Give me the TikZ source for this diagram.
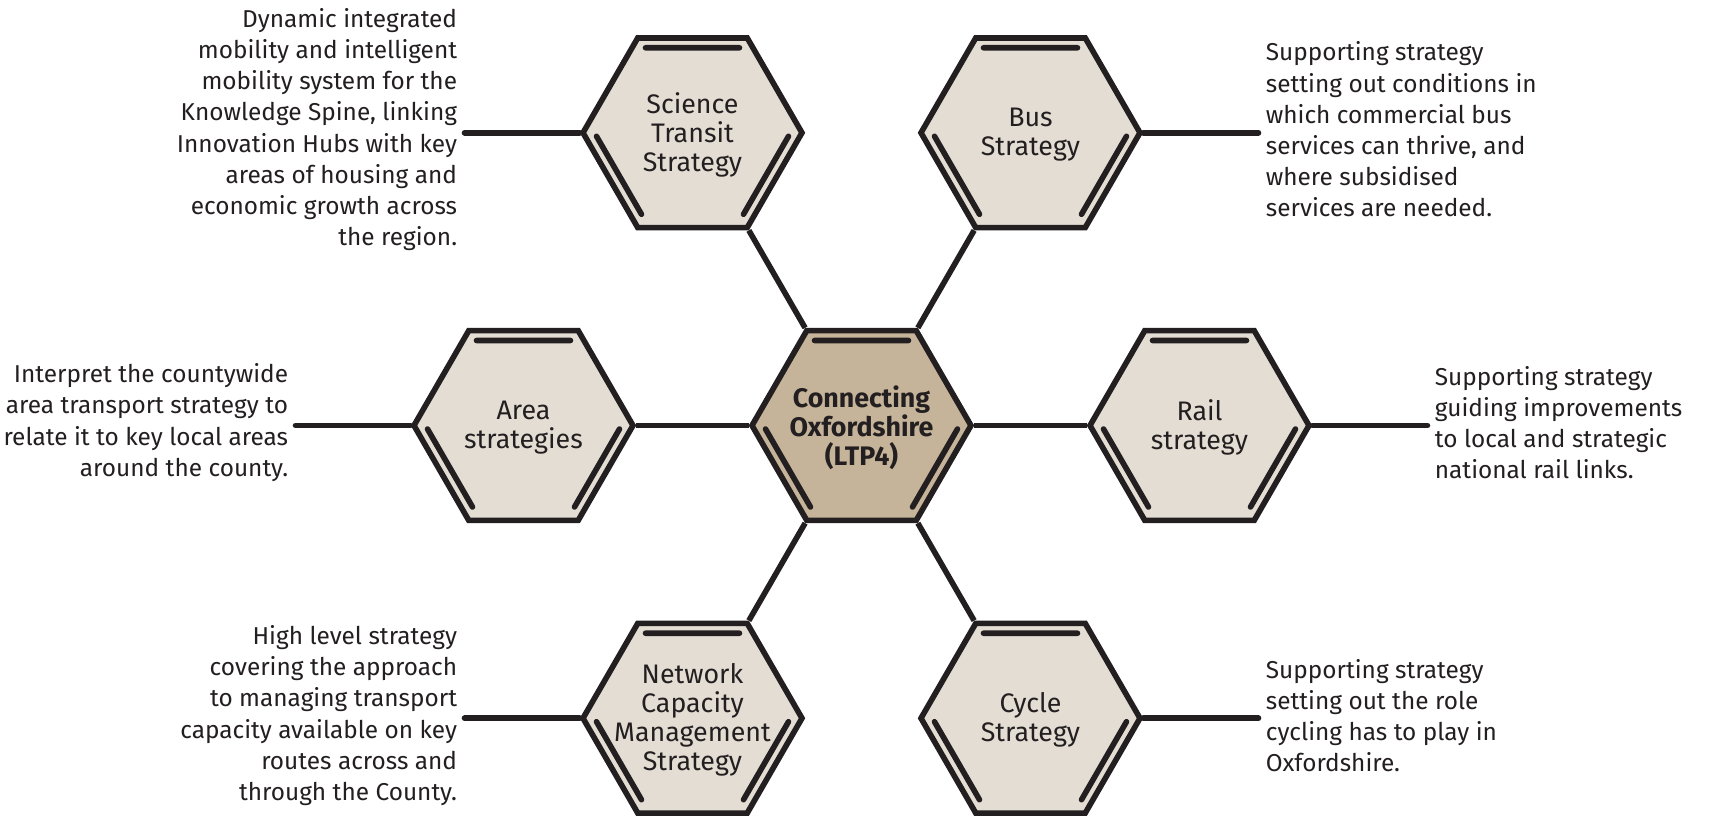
\documentclass[tikz,border=0pt]{standalone}
\usepackage{fontspec}
\setmainfont{Fira Sans}
\usetikzlibrary{shapes.geometric}

\definecolor{hexline}{HTML}{231F20}
\definecolor{hexfill}{HTML}{E3DDD3}
\definecolor{hubfill}{HTML}{C5B49A}

\tikzset{
  hexa/.style={regular polygon, regular polygon sides=6, minimum size=109.5pt,
    inner sep=0pt, draw=hexline, line width=2.8pt, fill=hexfill},
  hubhex/.style={hexa, fill=hubfill},
  hextext/.style={text=hexline, inner sep=0pt, yshift=-1pt, align=center,
    font=\fontsize{13.4}{14.5}\selectfont},
  hubtext/.style={hextext, font=\fontsize{13.4}{14.6}\selectfont\bfseries},
  note/.style={text=hexline, inner sep=3.5pt, font=\fontsize{12.2}{15.6}\selectfont},
  spoke/.style={draw=hexline, line width=2.8pt},
  leader/.style={draw=hexline, line width=2.8pt, line cap=round},
  hexrim/.style={draw=hexline, line width=2.8pt, line cap=round}
}

% inner rim lines of a hexagon
\newcommand{\hexrimlines}[1]{%
  \draw[hexrim] ([shift={(-47,85)}]#1.center) -- ([shift={(47,85)}]#1.center)
    ([shift={(-96,-3.5)}]#1.center) -- ([shift={(-51,-81.5)}]#1.center)
    ([shift={(96,-3.5)}]#1.center) -- ([shift={(51,-81.5)}]#1.center);}

\begin{document}
\begin{tikzpicture}[x=0.5pt,y=0.5pt]
  \useasboundingbox (-861.5,-390.5) rectangle (848.5,425.5);

  \node[hubhex, label={[hubtext]center:Connecting\\Oxfordshire\\(LTP4)}] (hub) at (0,0) {};
  \node[hexa, label={[hextext]center:Science\\Transit\\Strategy}] (sci) at (120:338) {};
  \node[hexa, label={[hextext]center:Bus\\Strategy}] (bus) at (60:338) {};
  \node[hexa, label={[hextext]center:Area\\strategies}] (area) at (180:338) {};
  \node[hexa, label={[hextext]center:Rail\\strategy}] (rail) at (0:338) {};
  \node[hexa, label={[hextext]center:Network\\Capacity\\Management\\Strategy}] (net) at (240:338) {};
  \node[hexa, label={[hextext]center:Cycle\\Strategy}] (cyc) at (300:338) {};

  \foreach \h in {hub,sci,bus,area,rail,net,cyc} {\hexrimlines{\h}}

  \foreach \h in {sci,bus,area,rail,net,cyc} {\draw[spoke] (hub) -- (\h);}

  % descriptions
  \node[note, anchor=east, align=right] (scitxt) at (-397,296)
    {Dynamic integrated\\mobility and intelligent\\mobility system for the\\Knowledge Spine, linking\\Innovation Hubs with key\\areas of housing and\\economic growth across\\the region.};
  \node[note, anchor=west, align=left] (bustxt) at (397,296)
    {Supporting strategy\\setting out conditions in\\which commercial bus\\services can thrive, and\\where subsidised\\services are needed.};
  \node[note, anchor=east, align=right] (areatxt) at (-566,3)
    {Interpret the countywide\\area transport strategy to\\relate it to key local areas\\around the county.};
  \node[note, anchor=west, align=left] (railtxt) at (566,3)
    {Supporting strategy\\guiding improvements\\to local and strategic\\national rail links.};
  \node[note, anchor=east, align=right] (nettxt) at (-397,-290)
    {High level strategy\\covering the approach\\to managing transport\\capacity available on key\\routes across and\\through the County.};
  \node[note, anchor=west, align=left] (cyctxt) at (397,-290)
    {Supporting strategy\\setting out the role\\cycling has to play in\\Oxfordshire.};

  \draw[leader] (sci.west) -- (sci.west -| scitxt.east);
  \draw[leader] (bus.east) -- (bus.east -| bustxt.west);
  \draw[leader] (area.west) -- (area.west -| areatxt.east);
  \draw[leader] (rail.east) -- (rail.east -| railtxt.west);
  \draw[leader] (net.west) -- (net.west -| nettxt.east);
  \draw[leader] (cyc.east) -- (cyc.east -| cyctxt.west);
\end{tikzpicture}
\end{document}
